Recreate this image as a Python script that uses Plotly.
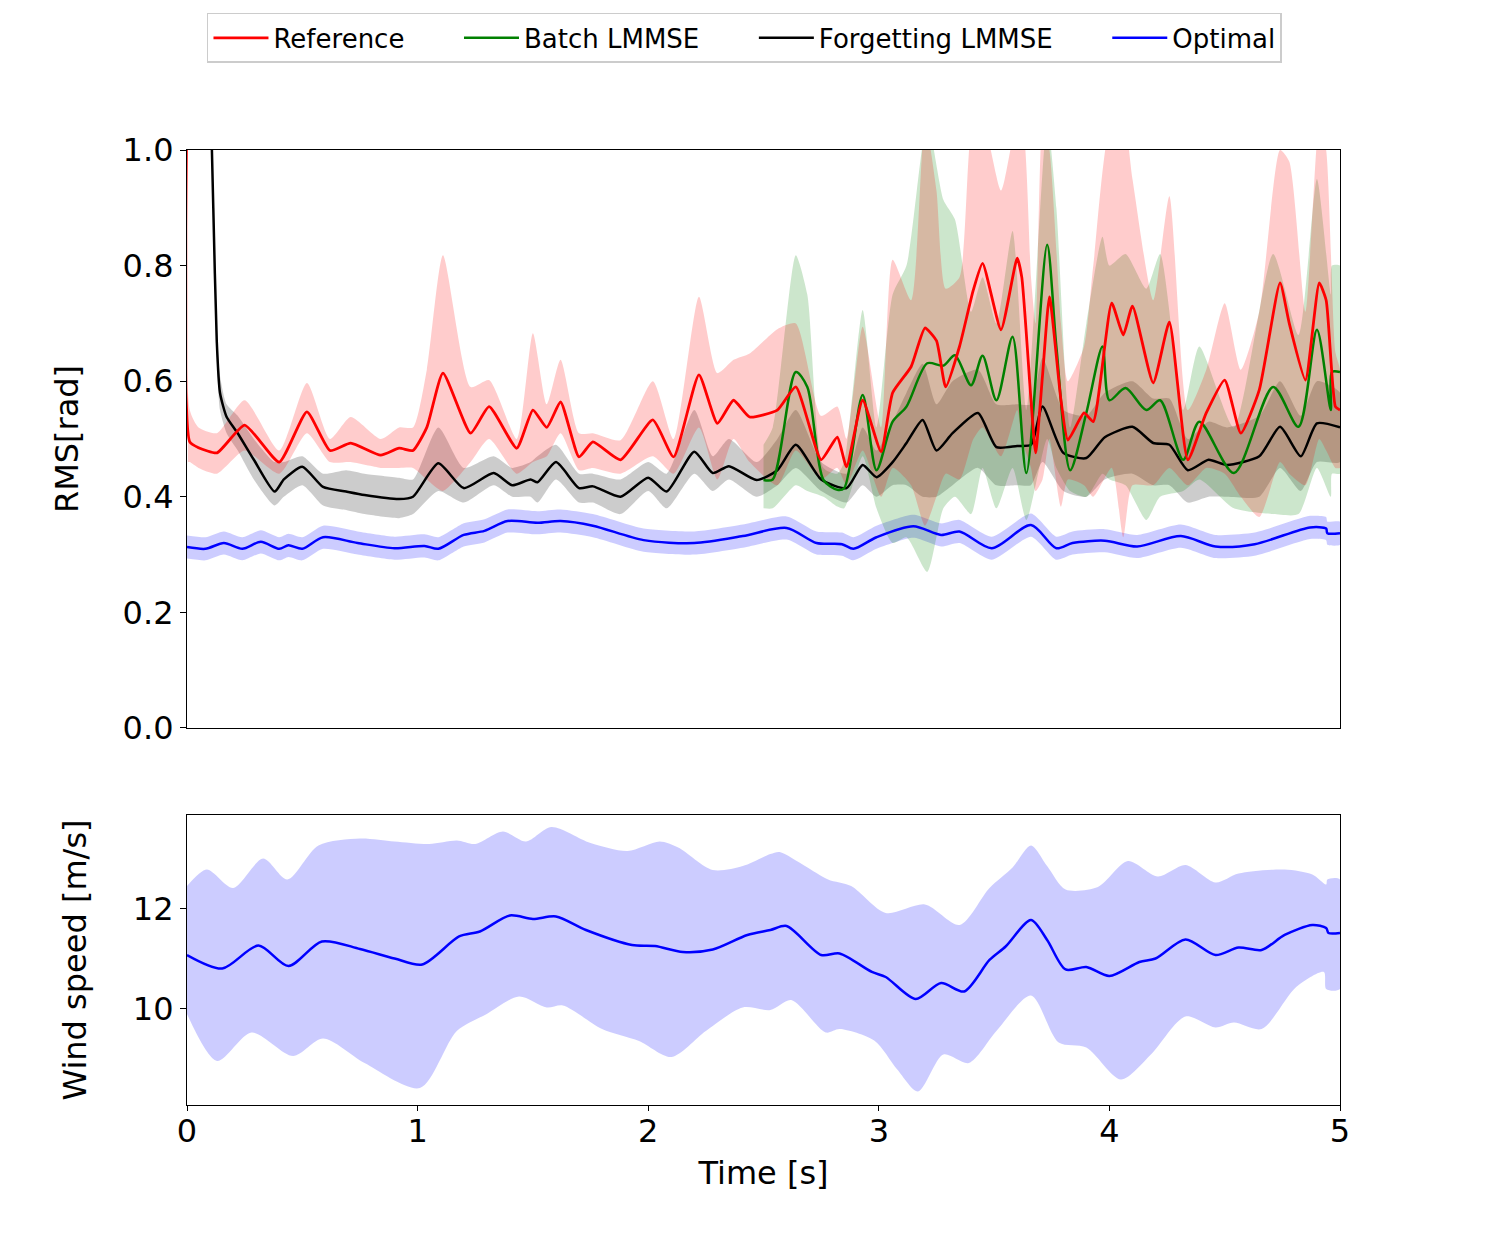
import plotly.graph_objects as go

# ---------------- Top panel data: RMS [rad] ----------------
ref_t = [0.004, 0.012, 0.05, 0.13, 0.25, 0.40, 0.52, 0.62, 0.71, 0.84, 0.92, 0.98, 1.04, 1.11, 1.23, 1.31,
         1.43, 1.50, 1.56, 1.62, 1.70, 1.76, 1.88, 2.02, 2.11, 2.22, 2.30, 2.37, 2.44, 2.56, 2.64, 2.75,
         2.82, 2.86, 2.93, 3.01, 3.06, 3.14, 3.20, 3.25, 3.29, 3.35, 3.41, 3.45, 3.53, 3.60, 3.62, 3.66,
         3.68, 3.71, 3.74, 3.79, 3.82, 3.89, 3.93, 4.01, 4.06, 4.10, 4.19, 4.26, 4.34, 4.42, 4.50, 4.57,
         4.65, 4.74, 4.78, 4.85, 4.91, 4.94, 4.98, 5.0]
ref_mean = [1.2, 0.495, 0.485, 0.476, 0.524, 0.46, 0.547, 0.48, 0.493, 0.472, 0.484, 0.48, 0.52, 0.614, 0.51, 0.556,
            0.484, 0.55, 0.52, 0.564, 0.469, 0.495, 0.464, 0.533, 0.469, 0.611, 0.527, 0.567, 0.538, 0.55, 0.59, 0.464,
            0.503, 0.452, 0.567, 0.478, 0.58, 0.625, 0.692, 0.67, 0.59, 0.66, 0.758, 0.804, 0.689, 0.813, 0.78, 0.567,
            0.476, 0.61, 0.746, 0.567, 0.498, 0.545, 0.53, 0.735, 0.68, 0.73, 0.597, 0.702, 0.464, 0.545, 0.602, 0.51,
            0.585, 0.77, 0.70, 0.602, 0.77, 0.74, 0.556, 0.55]
ref_hi = [1.2, 0.55, 0.52, 0.51, 0.567, 0.48, 0.597, 0.50, 0.538, 0.50, 0.52, 0.52, 0.62, 0.818, 0.59, 0.602,
          0.50, 0.683, 0.56, 0.637, 0.51, 0.51, 0.498, 0.60, 0.50, 0.746, 0.614, 0.637, 0.648, 0.69, 0.70, 0.54,
          0.556, 0.50, 0.694, 0.52, 0.81, 0.74, 1.05, 0.93, 0.76, 0.78, 1.05, 1.05, 0.93, 1.05, 1.05, 0.78,
          0.70, 1.05, 1.0, 0.70, 0.60, 0.66, 0.80, 1.05, 1.05, 0.95, 0.74, 0.92, 0.55, 0.62, 0.735, 0.62,
          0.72, 1.0, 0.98, 0.72, 1.05, 1.0, 0.65, 0.62]
ref_lo = [0.46, 0.46, 0.45, 0.44, 0.48, 0.44, 0.51, 0.46, 0.46, 0.45, 0.45, 0.45, 0.43, 0.41, 0.46, 0.50,
          0.44, 0.46, 0.47, 0.51, 0.446, 0.45, 0.44, 0.47, 0.44, 0.52, 0.43, 0.50, 0.46, 0.42, 0.48, 0.43,
          0.45, 0.42, 0.48, 0.40, 0.45, 0.42, 0.35, 0.40, 0.44, 0.43, 0.50, 0.52, 0.47, 0.55, 0.50, 0.45,
          0.41, 0.43, 0.50, 0.383, 0.43, 0.42, 0.40, 0.45, 0.33, 0.42, 0.42, 0.45, 0.42, 0.45, 0.44, 0.40,
          0.365, 0.46, 0.44, 0.42, 0.50, 0.48, 0.45, 0.45]

forg_t = [0.105, 0.114, 0.129, 0.143, 0.172, 0.22, 0.29, 0.38, 0.42, 0.50, 0.59, 0.69, 0.77, 0.92, 0.98, 1.09,
          1.20, 1.33, 1.41, 1.49, 1.52, 1.60, 1.70, 1.76, 1.88, 2.00, 2.08, 2.20, 2.28, 2.35, 2.47, 2.56,
          2.64, 2.75, 2.86, 2.93, 2.99, 3.06, 3.12, 3.19, 3.25, 3.32, 3.43, 3.51, 3.60, 3.66, 3.71, 3.80,
          3.90, 3.98, 4.10, 4.19, 4.26, 4.34, 4.43, 4.51, 4.65, 4.74, 4.83, 4.90, 5.0]
forg_mean = [1.05, 0.90, 0.67, 0.58, 0.538, 0.51, 0.464, 0.409, 0.43, 0.452, 0.417, 0.409, 0.403, 0.396, 0.40, 0.458,
             0.415, 0.441, 0.42, 0.43, 0.425, 0.46, 0.415, 0.418, 0.40, 0.433, 0.409, 0.478, 0.441, 0.453, 0.429, 0.446,
             0.49, 0.43, 0.415, 0.455, 0.434, 0.46, 0.493, 0.533, 0.48, 0.51, 0.545, 0.486, 0.488, 0.49, 0.556, 0.476,
             0.467, 0.503, 0.521, 0.493, 0.49, 0.446, 0.464, 0.455, 0.47, 0.521, 0.47, 0.527, 0.52]
forg_hi = [1.05, 0.92, 0.70, 0.61, 0.56, 0.54, 0.50, 0.46, 0.46, 0.47, 0.44, 0.446, 0.44, 0.433, 0.43, 0.52,
           0.45, 0.47, 0.45, 0.46, 0.47, 0.49, 0.44, 0.44, 0.43, 0.46, 0.44, 0.55, 0.47, 0.50, 0.46, 0.50,
           0.55, 0.46, 0.44, 0.52, 0.48, 0.53, 0.58, 0.63, 0.56, 0.60, 0.62, 0.56, 0.56, 0.56, 0.64, 0.55,
           0.54, 0.58, 0.60, 0.57, 0.57, 0.50, 0.53, 0.52, 0.54, 0.60, 0.54, 0.60, 0.58]
forg_lo = [1.05, 0.88, 0.64, 0.55, 0.51, 0.48, 0.43, 0.385, 0.40, 0.42, 0.385, 0.377, 0.37, 0.363, 0.37, 0.41,
           0.39, 0.42, 0.40, 0.40, 0.39, 0.43, 0.39, 0.39, 0.37, 0.41, 0.38, 0.44, 0.41, 0.43, 0.40, 0.42,
           0.45, 0.41, 0.39, 0.42, 0.40, 0.42, 0.42, 0.40, 0.40, 0.42, 0.45, 0.42, 0.42, 0.42, 0.46, 0.41,
           0.40, 0.43, 0.44, 0.42, 0.42, 0.39, 0.40, 0.40, 0.40, 0.45, 0.41, 0.46, 0.46]

batch_t = [2.50, 2.54, 2.64, 2.69, 2.76, 2.82, 2.85, 2.93, 2.99, 3.06, 3.12, 3.21, 3.28, 3.33, 3.40, 3.45,
           3.51, 3.58, 3.64, 3.73, 3.77, 3.83, 3.90, 3.97, 4.00, 4.07, 4.16, 4.22, 4.32, 4.39, 4.54, 4.71,
           4.82, 4.90, 4.96, 4.965, 5.0]
batch_mean = [0.429, 0.43, 0.616, 0.59, 0.429, 0.412, 0.415, 0.576, 0.446, 0.53, 0.556, 0.631, 0.627, 0.645, 0.593, 0.644,
              0.567, 0.677, 0.441, 0.836, 0.66, 0.446, 0.545, 0.66, 0.567, 0.588, 0.55, 0.567, 0.464, 0.53, 0.441, 0.59,
              0.521, 0.689, 0.55, 0.616, 0.616]
batch_hi = [0.49, 0.52, 0.818, 0.75, 0.45, 0.44, 0.46, 0.723, 0.52, 0.75, 0.80, 1.05, 0.914, 0.88, 0.72, 0.78,
            0.70, 0.86, 0.55, 1.05, 0.90, 0.52, 0.70, 0.85, 0.80, 0.82, 0.76, 0.82, 0.55, 0.66, 0.52, 0.82,
            0.68, 0.95, 0.75, 0.80, 0.80]
batch_lo = [0.38, 0.38, 0.42, 0.41, 0.40, 0.383, 0.38, 0.47, 0.38, 0.32, 0.33, 0.27, 0.38, 0.40, 0.37, 0.45,
            0.38, 0.45, 0.36, 0.50, 0.45, 0.41, 0.40, 0.44, 0.43, 0.42, 0.36, 0.40, 0.41, 0.43, 0.38, 0.37,
            0.37, 0.45, 0.40, 0.44, 0.44]

opt_t = [0, 0.08, 0.16, 0.24, 0.32, 0.40, 0.44, 0.50, 0.59, 0.74, 0.90, 1.03, 1.09, 1.20, 1.29, 1.39,
         1.52, 1.62, 1.76, 1.98, 2.20, 2.41, 2.60, 2.73, 2.84, 2.89, 2.99, 3.15, 3.27, 3.35, 3.49, 3.66,
         3.77, 3.84, 3.98, 4.12, 4.31, 4.46, 4.63, 4.87, 4.94, 4.945, 5.0]
opt_mean = [0.313, 0.31, 0.32, 0.31, 0.322, 0.31, 0.316, 0.31, 0.33, 0.32, 0.311, 0.315, 0.31, 0.334, 0.341, 0.358,
            0.355, 0.358, 0.35, 0.325, 0.32, 0.332, 0.346, 0.32, 0.318, 0.31, 0.33, 0.349, 0.334, 0.34, 0.311, 0.351,
            0.311, 0.32, 0.324, 0.314, 0.332, 0.314, 0.318, 0.347, 0.345, 0.337, 0.337]
opt_hi = [0.333, 0.330, 0.340, 0.330, 0.342, 0.330, 0.336, 0.330, 0.350, 0.340, 0.331, 0.335, 0.330, 0.354, 0.361, 0.378,
          0.375, 0.378, 0.370, 0.345, 0.340, 0.352, 0.366, 0.340, 0.338, 0.330, 0.350, 0.369, 0.354, 0.360, 0.331, 0.371,
          0.331, 0.340, 0.344, 0.334, 0.352, 0.334, 0.338, 0.367, 0.365, 0.357, 0.357]
opt_lo = [0.293, 0.290, 0.300, 0.290, 0.302, 0.290, 0.296, 0.290, 0.310, 0.300, 0.291, 0.295, 0.290, 0.314, 0.321, 0.338,
          0.335, 0.338, 0.330, 0.305, 0.300, 0.312, 0.326, 0.300, 0.298, 0.290, 0.310, 0.329, 0.314, 0.320, 0.291, 0.331,
          0.291, 0.300, 0.304, 0.294, 0.312, 0.294, 0.298, 0.327, 0.325, 0.317, 0.317]

# ---------------- Bottom panel data: wind speed [m/s] ----------------
wind_t = [0, 0.153, 0.31, 0.44, 0.585, 0.75, 0.90, 1.02, 1.18, 1.27, 1.40, 1.50, 1.60, 1.73, 1.93, 2.03,
          2.15, 2.28, 2.43, 2.53, 2.60, 2.75, 2.83, 2.97, 3.03, 3.16, 3.27, 3.37, 3.48, 3.55, 3.66, 3.73,
          3.81, 3.90, 4.00, 4.13, 4.20, 4.33, 4.46, 4.56, 4.66, 4.76, 4.88, 4.94, 4.95, 5.0]
wind_mean = [11.08, 10.81, 11.27, 10.86, 11.35, 11.2, 11.01, 10.89, 11.45, 11.55, 11.87, 11.80, 11.85, 11.58, 11.28, 11.26,
             11.14, 11.19, 11.48, 11.58, 11.66, 11.08, 11.11, 10.74, 10.64, 10.20, 10.52, 10.35, 10.98, 11.25, 11.78, 11.38,
             10.79, 10.84, 10.66, 10.94, 11.01, 11.39, 11.08, 11.23, 11.18, 11.48, 11.68, 11.62, 11.52, 11.52]
wind_hi_t = [0, 0.086, 0.20, 0.33, 0.435, 0.57, 0.75, 0.90, 1.05, 1.17, 1.25, 1.37, 1.47, 1.58, 1.75, 1.91,
             2.05, 2.13, 2.28, 2.41, 2.53, 2.57, 2.68, 2.78, 2.88, 3.03, 3.20, 3.35, 3.48, 3.58, 3.66, 3.73,
             3.81, 3.95, 4.08, 4.21, 4.33, 4.46, 4.56, 4.76, 4.88, 4.94, 4.945, 5.0]
wind_hi = [12.46, 12.79, 12.42, 13.01, 12.59, 13.27, 13.41, 13.35, 13.30, 13.37, 13.30, 13.55, 13.35, 13.64, 13.32, 13.16,
           13.35, 13.23, 12.78, 12.86, 13.10, 13.14, 12.86, 12.59, 12.46, 11.92, 12.09, 11.68, 12.42, 12.83, 13.27, 12.86,
           12.39, 12.44, 12.96, 12.65, 12.88, 12.53, 12.71, 12.79, 12.69, 12.49, 12.59, 12.59]
wind_lo_t = [0, 0.13, 0.28, 0.46, 0.59, 0.77, 1.01, 1.17, 1.30, 1.44, 1.56, 1.63, 1.80, 1.96, 2.10, 2.25,
             2.41, 2.53, 2.62, 2.77, 2.83, 2.98, 3.08, 3.17, 3.28, 3.39, 3.51, 3.66, 3.78, 3.90, 4.05, 4.18,
             4.33, 4.46, 4.54, 4.66, 4.81, 4.93, 4.94, 5.0]
wind_lo = [9.90, 8.96, 9.53, 9.06, 9.41, 8.92, 8.42, 9.56, 9.90, 10.25, 10.03, 10.07, 9.60, 9.36, 9.04, 9.56,
           10.03, 9.98, 10.18, 9.53, 9.60, 9.37, 8.79, 8.35, 9.09, 8.92, 9.56, 10.27, 9.33, 9.23, 8.59, 9.09,
           9.85, 9.63, 9.73, 9.60, 10.44, 10.74, 10.40, 10.40]

legend_names = ["Reference", "Batch LMMSE", "Forgetting LMMSE", "Optimal"]
top_yticks = [0.0, 0.2, 0.4, 0.6, 0.8, 1.0]
top_yticklabels = ["0.0", "0.2", "0.4", "0.6", "0.8", "1.0"]
bot_yticks = [10, 12]
xticks = [0, 1, 2, 3, 4, 5]

FONT = "DejaVu Sans"
PAD = "\u00a0" * 6

fig = go.Figure()


def band(t, hi, lo, color, xa, ya, shape="spline"):
    fig.add_trace(go.Scatter(x=list(t) + list(t)[::-1], y=list(hi) + list(lo)[::-1], mode="lines",
                             line=dict(width=0, shape=shape, smoothing=0.6),
                             fill="toself", fillcolor=color, showlegend=False,
                             hoverinfo="skip", xaxis=xa, yaxis=ya))


# bands (top)
band(opt_t, opt_hi, opt_lo, "rgba(0,0,255,0.2)", "x", "y")
band(forg_t, forg_hi, forg_lo, "rgba(0,0,0,0.2)", "x", "y")
band(batch_t, batch_hi, batch_lo, "rgba(0,128,0,0.2)", "x", "y")
band(ref_t, ref_hi, ref_lo, "rgba(255,0,0,0.2)", "x", "y")

# lines (top)
fig.add_trace(go.Scatter(x=opt_t, y=opt_mean, mode="lines", name=legend_names[3], legendrank=4,
                         line=dict(color="#0000ff", width=2.5, shape="spline", smoothing=0.8),
                         xaxis="x", yaxis="y"))
fig.add_trace(go.Scatter(x=forg_t, y=forg_mean, mode="lines", name=legend_names[2] + PAD, legendrank=3,
                         line=dict(color="black", width=2.5, shape="spline", smoothing=0.6),
                         xaxis="x", yaxis="y"))
fig.add_trace(go.Scatter(x=batch_t, y=batch_mean, mode="lines", name=legend_names[1] + PAD, legendrank=2,
                         line=dict(color="green", width=2.5, shape="spline", smoothing=0.8),
                         xaxis="x", yaxis="y"))
fig.add_trace(go.Scatter(x=ref_t, y=ref_mean, mode="lines", name=legend_names[0] + PAD, legendrank=1,
                         line=dict(color="red", width=2.8, shape="spline", smoothing=0.5),
                         xaxis="x", yaxis="y"))

# bottom panel
fig.add_trace(go.Scatter(x=list(wind_hi_t) + list(wind_lo_t)[::-1], y=list(wind_hi) + list(wind_lo)[::-1],
                         mode="lines", line=dict(width=0, shape="spline", smoothing=0.8),
                         fill="toself", fillcolor="rgba(0,0,255,0.2)", showlegend=False,
                         hoverinfo="skip", xaxis="x2", yaxis="y2"))
fig.add_trace(go.Scatter(x=wind_t, y=wind_mean, mode="lines", showlegend=False,
                         line=dict(color="#0000ff", width=2.5, shape="spline", smoothing=0.8),
                         xaxis="x2", yaxis="y2"))

axis_common = dict(showline=True, linecolor="black", linewidth=1.2, mirror=True,
                   tickwidth=1.2, tickcolor="black",
                   showgrid=False, zeroline=False,
                   tickfont=dict(family=FONT, size=32, color="black"))

fig.update_layout(
    width=1488, height=1240,
    margin=dict(l=187, r=148, t=150, b=135),
    paper_bgcolor="white", plot_bgcolor="white",
    font=dict(family=FONT, color="black"),
    xaxis=dict(domain=[0, 1], range=[0, 5], tickvals=xticks, showticklabels=False, ticks="",
               anchor="y", **axis_common),
    yaxis=dict(domain=[0.3948, 1], range=[0, 1], tickvals=top_yticks, ticktext=top_yticklabels,
               ticks="outside", ticklen=6,
               anchor="x", title=dict(text="RMS[rad]", font=dict(family=FONT, size=32), standoff=34),
               **axis_common),
    xaxis2=dict(domain=[0, 1], range=[0, 5], tickvals=xticks, anchor="y2", ticks="outside", ticklen=5,
                ticklabelstandoff=-8,
                title=dict(text="Time [s]", font=dict(family=FONT, size=32), standoff=13),
                **axis_common),
    yaxis2=dict(domain=[0, 0.3037], range=[8.08, 13.88], tickvals=bot_yticks, anchor="x2",
                ticks="outside", ticklen=6,
                title=dict(text="Wind speed [m/s]", font=dict(family=FONT, size=32), standoff=36),
                **axis_common),
    legend=dict(orientation="h", x=0.4835, xanchor="center", y=1.1435, yanchor="top",
                font=dict(family=FONT, size=26, color="black"),
                bordercolor="#cccccc", borderwidth=1.5, bgcolor="white",
                itemwidth=55, traceorder="normal"),
    showlegend=True,
)

fig.write_html("out.html")
